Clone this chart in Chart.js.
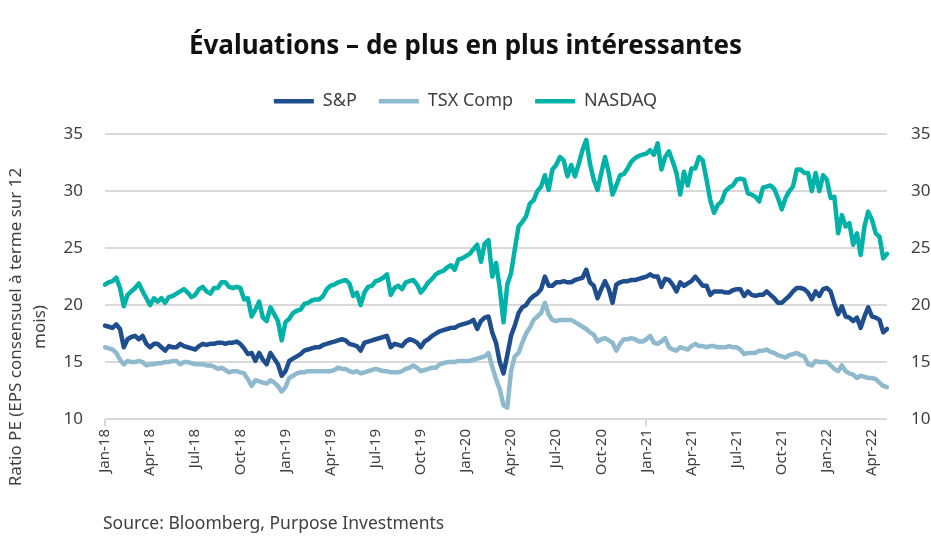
<!DOCTYPE html>
<html>
<head>
<meta charset="utf-8">
<script src="https://cdn.jsdelivr.net/npm/chart.js@4.4.1/dist/chart.umd.min.js"></script>
<style>
  html, body { margin: 0; padding: 0; background: #fff; }
  #wrap { position: relative; width: 931px; height: 551px; }
  #source { position: absolute; left: 103px; top: 510px; font-family: 'Noto Sans', sans-serif; font-size: 17.5px; color: #404040; }
</style>
</head>
<body>
<div id="wrap">
  <canvas id="chart" width="931" height="551"></canvas>
  <div id="source">Source: Bloomberg, Purpose Investments</div>
</div>
<script>
// weekly points, Jan-18 .. May-22 (4 per month)
const monthNames = ["Jan", "Feb", "Mar", "Apr", "May", "Jun", "Jul", "Aug", "Sep", "Oct", "Nov", "Dec"];
const years = ["18", "19", "20", "21", "22"];

const sp = [
  18.2, 18.1, 18.0, 18.3,  17.9, 16.3, 17.0, 17.2,  17.3, 17.0, 17.3, 16.6,
  16.3, 16.6, 16.6, 16.3,  16.0, 16.4, 16.3, 16.3,  16.6, 16.4, 16.3, 16.2,
  16.1, 16.4, 16.6, 16.5,  16.6, 16.6, 16.7, 16.7,  16.6, 16.7, 16.7, 16.8,
  16.6, 16.2, 15.7, 15.8,  15.1, 15.8, 15.2, 14.8,  15.8, 15.3, 14.8, 13.8,
  14.2, 15.1, 15.3, 15.5,  15.7, 16.0, 16.1, 16.2,  16.3, 16.3, 16.5, 16.6,
  16.7, 16.8, 16.9, 17.0,  16.9, 16.6, 16.5, 16.4,  16.0, 16.7, 16.8, 16.9,
  17.0, 17.1, 17.2, 17.3,  16.3, 16.6, 16.5, 16.4,  16.8, 17.0, 16.9, 16.7,
  16.3, 16.8, 17.0, 17.3,  17.5, 17.7, 17.8, 17.9,  18.0, 18.0, 18.2, 18.3,
  18.4, 18.5, 18.7, 17.9,  18.6, 18.9, 19.0, 17.6,  16.7, 15.0, 14.0, 15.6,
  17.3, 18.2, 19.3, 19.8,  20.0, 20.5, 20.8, 21.0,  21.4, 22.5, 21.7, 21.7,
  22.0, 22.0, 22.1, 22.0,  22.0, 22.2, 22.3, 22.4,  23.1, 22.0, 21.7, 20.6,
  21.4, 22.1, 21.4, 20.2,  21.8, 22.0, 22.1, 22.1,  22.2, 22.2, 22.3, 22.4,
  22.5, 22.7, 22.5, 22.5,  21.6, 22.3, 22.2, 21.8,  21.2, 22.0, 21.7, 21.9,
  22.1, 22.5, 22.1, 21.7,  21.7, 20.9, 21.2, 21.2,  21.2, 21.1, 21.1, 21.3,
  21.4, 21.4, 20.8, 21.2,  20.9, 20.8, 20.9, 20.9,  21.2, 20.9, 20.6, 20.2,
  20.2, 20.5, 20.8, 21.2,  21.5, 21.5, 21.4, 21.1,  20.5, 21.2, 20.8, 21.4,
  21.5, 21.2, 20.1, 19.2,  19.9, 19.0, 18.9, 18.6,  18.9, 18.0, 19.0, 19.8,
  19.0, 18.9, 18.7, 17.6,  17.9
];

const tsx = [
  16.3, 16.2, 16.1, 15.8,  15.2, 14.8, 15.1, 15.0,  15.0, 15.1, 15.0, 14.7,
  14.8, 14.8, 14.9, 14.9,  15.0, 15.0, 15.1, 15.1,  14.8, 15.0, 15.0, 14.9,
  14.8, 14.8, 14.8, 14.7,  14.7, 14.6, 14.4, 14.5,  14.3, 14.1, 14.2, 14.2,
  14.1, 14.0, 13.5, 12.9,  13.4, 13.3, 13.2, 13.1,  13.4, 13.2, 12.9, 12.4,
  12.8, 13.6, 13.8, 14.0,  14.1, 14.1, 14.2, 14.2,  14.2, 14.2, 14.2, 14.2,
  14.2, 14.3, 14.5, 14.4,  14.4, 14.2, 14.1, 14.2,  14.0, 14.1, 14.2, 14.3,
  14.4, 14.3, 14.2, 14.2,  14.1, 14.1, 14.1, 14.2,  14.4, 14.5, 14.7, 14.5,
  14.2, 14.3, 14.4, 14.5,  14.5, 14.8, 14.9, 15.0,  15.0, 15.0, 15.1, 15.1,
  15.1, 15.1, 15.2, 15.3,  15.4, 15.5, 15.8, 14.6,  13.5, 12.6, 11.2, 11.0,
  14.2, 15.5, 15.8, 16.7,  17.5, 18.0, 18.7, 19.0,  19.3, 20.2, 19.2, 18.7,
  18.6, 18.7, 18.7, 18.7,  18.7, 18.5, 18.3, 18.1,  17.9, 17.6, 17.4, 16.8,
  17.0, 17.1, 16.9, 16.7,  16.0, 16.6, 17.0, 17.0,  17.1, 17.0, 16.8, 16.8,
  17.0, 17.3, 16.7, 16.6,  16.8, 17.1, 16.3, 16.1,  16.0, 16.3, 16.2, 16.1,
  16.4, 16.6, 16.4, 16.4,  16.3, 16.4, 16.4, 16.3,  16.3, 16.3, 16.4, 16.3,
  16.3, 16.1, 15.7, 15.8,  15.8, 15.8, 16.0, 16.0,  16.1, 15.9, 15.8, 15.6,
  15.5, 15.4, 15.6, 15.7,  15.8, 15.6, 15.5, 14.8,  14.7, 15.1, 15.0, 15.0,
  15.0, 14.7, 14.4, 14.2,  14.7, 14.2, 14.0, 13.9,  13.6, 13.8, 13.7, 13.6,
  13.6, 13.5, 13.2, 12.9,  12.8
];

const nasdaq = [
  21.8, 22.0, 22.1, 22.4,  21.5, 19.9, 20.9, 21.2,  21.5, 21.9, 21.2, 20.6,
  20.0, 20.6, 20.3, 20.6,  20.2, 20.7, 20.8, 21.0,  21.2, 21.4, 21.1, 20.7,
  20.9, 21.4, 21.6, 21.2,  21.0, 21.5, 21.5, 22.0,  22.0, 21.6, 21.5, 21.6,
  21.5, 20.5, 20.6, 19.0,  19.6, 20.3, 18.9, 18.6,  19.8, 19.2, 18.6, 16.9,
  18.5, 18.8, 19.3, 19.5,  19.6, 20.1, 20.2, 20.4,  20.5, 20.5, 20.8, 21.4,
  21.7, 21.8, 22.0, 22.1,  22.2, 21.9, 20.8, 21.1,  20.0, 21.1, 21.6, 21.7,
  22.1, 22.2, 22.4, 22.7,  20.9, 21.5, 21.7, 21.4,  22.0, 22.1, 22.2, 21.8,
  21.1, 21.5, 22.0, 22.3,  22.7, 22.9, 23.0, 23.3,  23.5, 23.1, 24.0, 24.1,
  24.3, 24.5, 24.9, 25.3,  23.8, 25.4, 25.7, 22.5,  23.7, 21.5, 18.5, 21.8,
  22.8, 24.9, 26.9, 27.3,  27.8, 28.9, 29.2, 30.0,  30.4, 31.4, 30.1, 31.9,
  32.3, 33.0, 32.7, 31.3,  32.3, 31.3, 32.4, 33.6,  34.5, 32.4, 31.0, 30.1,
  31.6, 33.0, 31.6, 29.7,  30.5, 31.4, 31.5, 32.0,  32.6, 32.9, 33.1, 33.2,
  33.3, 33.6, 33.2, 34.2,  31.9, 33.0, 33.5, 32.6,  31.6, 29.7, 31.7, 30.5,
  32.0, 32.0, 33.0, 32.7,  31.0, 29.2, 28.1, 28.8,  29.1, 30.0, 30.3, 30.5,
  31.0, 31.1, 31.0, 29.8,  29.7, 29.5, 29.1, 30.3,  30.4, 30.5, 30.2, 29.4,
  28.4, 29.4, 30.0, 30.4,  31.9, 31.9, 31.6, 31.6,  30.0, 31.6, 30.0, 31.4,
  31.0, 29.4, 29.5, 26.3,  27.9, 26.9, 27.2, 25.3,  26.3, 24.4, 26.9, 28.2,
  27.5, 26.3, 26.0, 24.1,  24.5
];

const yTicks = [10, 15, 20, 25, 30, 35];

var labels = [];
for (let y = 0; y < years.length; y++) {
    for (let m = 0; m < 12; m++) {
        for (let w = 0; w < 4; w++) {
            if (labels.length < sp.length) labels.push(monthNames[m] + "-" + years[y]);
        }
    }
}

function isQuarter(i) { return i % 12 === 0; }

Chart.defaults.font.family = "'Noto Sans', sans-serif";
Chart.defaults.color = "#404040";

const yTitle = {
    id: 'yTitle',
    afterDraw(chart) {
        const ctx = chart.ctx;
        ctx.save();
        ctx.fillStyle = "#404040";
        ctx.font = "17px 'Noto Sans', sans-serif";
        ctx.textAlign = "center";
        ctx.textBaseline = "middle";
        ctx.translate(16, 327);
        ctx.rotate(-Math.PI / 2);
        ctx.fillText("Ratio PE (EPS consensuel à terme sur 12", 0, 0);
        ctx.fillText("mois)", 0, 24);
        ctx.restore();
    }
};

var chartdata = {
    labels: labels,
    datasets: [
        { label: "S&P", data: sp, borderColor: "#1f4e8f", backgroundColor: "#1f4e8f", borderWidth: 4.5 },
        { label: "TSX Comp", data: tsx, borderColor: "#8fb9cc", backgroundColor: "#8fb9cc", borderWidth: 4.5 },
        { label: "NASDAQ", data: nasdaq, borderColor: "#00b2a7", backgroundColor: "#00b2a7", borderWidth: 4.5 }
    ]
};

new Chart(document.getElementById("chart"), {
    type: 'line',
    data: chartdata,
    plugins: [yTitle],
    options: {
        responsive: false,
        animation: false,
        layout: { padding: 0 },
        elements: {
            point: { radius: 0 },
            line: { tension: 0, borderJoinStyle: 'round', borderCapStyle: 'round' }
        },
        plugins: {
            title: {
                display: true,
                text: "Évaluations – de plus en plus intéressantes",
                font: { size: 26, weight: 'bold' },
                color: "#111",
                padding: { top: 31, bottom: 8 }
            },
            legend: {
                labels: {
                    usePointStyle: true,
                    pointStyle: 'line',
                    pointStyleWidth: 40,
                    boxHeight: 18,
                    padding: 22,
                    font: { size: 18 }
                }
            },
            tooltip: { enabled: false }
        },
        scales: {
            xTop: {
                type: 'category',
                position: 'top',
                afterFit(scale) { scale.height = 14; },
                grid: { display: false },
                border: { display: false },
                ticks: { display: false }
            },
            x: {
                afterFit(scale) { scale.height = 132; },
                grid: {
                    drawOnChartArea: false,
                    tickLength: 7,
                    color: ctx => isQuarter(ctx.index) ? "#d9d9d9" : "transparent",
                    lineWidth: 2
                },
                border: { display: false },
                ticks: {
                    autoSkip: false,
                    maxRotation: 90,
                    minRotation: 90,
                    font: { size: 15 },
                    callback: function (val, i) { return isQuarter(i) ? labels[i] : null; }
                }
            },
            y: {
                min: 10,
                max: 35,
                afterFit(scale) { scale.width = 105; },
                afterBuildTicks(scale) { scale.ticks = yTicks.map(v => ({ value: v })); },
                grid: { color: "#d9d9d9", lineWidth: 2, drawTicks: false },
                border: { display: false },
                ticks: { padding: 22, font: { size: 17 } }
            },
            y2: {
                position: 'right',
                min: 10,
                max: 35,
                afterFit(scale) { scale.width = 44; },
                afterBuildTicks(scale) { scale.ticks = yTicks.map(v => ({ value: v })); },
                grid: { display: false },
                border: { display: false },
                ticks: { padding: 16, font: { size: 17 } }
            }
        }
    }
});
</script>
</body>
</html>
